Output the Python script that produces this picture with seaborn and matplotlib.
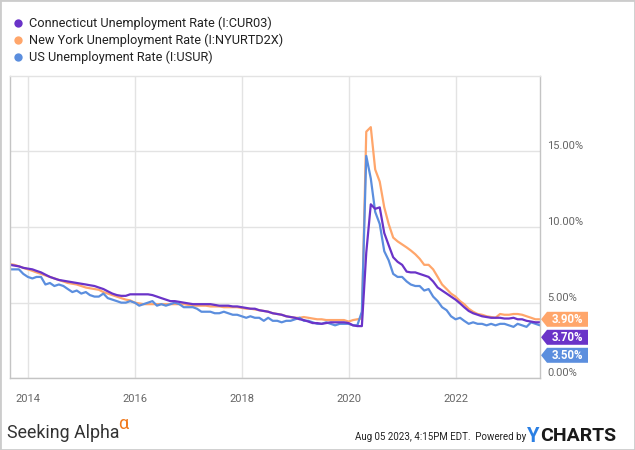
import matplotlib
matplotlib.use("Agg")
import matplotlib.pyplot as plt
import matplotlib.transforms as mtrans
from matplotlib.patches import Polygon, Rectangle
from matplotlib.lines import Line2D
import seaborn as sns
import pandas as pd

# ---------------- data (monthly, Aug 2013 - Jul 2023, month-end) ----------------
start_month = "2013-08-01"
n_months = 120

ct_rate = [7.5, 7.45, 7.4, 7.3, 7.25,
           7.2, 7.1, 7.0, 6.85, 6.7, 6.6, 6.5, 6.45, 6.4, 6.35, 6.3, 6.25,
           6.2, 6.15, 6.1, 6.0, 5.9, 5.75, 5.6, 5.5, 5.45, 5.45, 5.55, 5.55,
           5.55, 5.55, 5.55, 5.5, 5.4, 5.3, 5.2, 5.1, 5.1, 5.05, 5.0, 4.95,
           4.9, 4.9, 4.9, 4.9, 4.9, 4.85, 4.8, 4.8, 4.8, 4.75, 4.75, 4.7,
           4.65, 4.6, 4.6, 4.5, 4.45, 4.4, 4.3, 4.25, 4.2, 4.1, 4.05, 4.0,
           3.9, 3.85, 3.75, 3.65, 3.65, 3.6, 3.65, 3.7, 3.7, 3.7, 3.7, 3.65,
           3.5, 3.45, 3.45, 8.3, 11.5, 11.2, 11.3, 9.6, 8.8, 8.0, 7.7, 7.5,
           7.05, 7.0, 7.0, 6.9, 6.8, 6.7, 6.4, 6.0, 5.8, 5.6, 5.4, 5.2,
           4.95, 4.7, 4.45, 4.3, 4.2, 4.1, 4.05, 4.0, 4.0, 4.0, 3.95, 3.95,
           4.0, 3.9, 3.9, 3.8, 3.75, 3.7, 3.7]

ny_rate = [7.55, 7.5, 7.4, 7.3, 7.2,
           7.1, 7.0, 6.9, 6.8, 6.7, 6.6, 6.5, 6.4, 6.3, 6.25, 6.2, 6.1,
           6.0, 5.95, 5.9, 5.85, 5.7, 5.6, 5.5, 5.4, 5.3, 5.2, 5.15, 5.0,
           4.95, 4.9, 4.9, 4.9, 4.9, 4.9, 4.9, 4.9, 4.9, 4.9, 4.9, 4.85,
           4.8, 4.8, 4.8, 4.8, 4.75, 4.75, 4.75, 4.7, 4.7, 4.7, 4.7, 4.65,
           4.6, 4.6, 4.55, 4.5, 4.45, 4.4, 4.3, 4.25, 4.2, 4.1, 4.05, 4.0,
           4.0, 4.05, 4.0, 3.95, 3.9, 3.9, 3.85, 3.85, 3.85, 3.85, 3.85, 3.75,
           3.85, 3.9, 3.95, 16.3, 16.6, 13.8, 13.0, 11.3, 10.2, 9.3, 9.05, 8.85,
           8.65, 8.45, 8.2, 7.9, 7.5, 7.5, 7.2, 6.7, 6.2, 5.9, 5.6, 5.4,
           5.1, 4.9, 4.6, 4.4, 4.25, 4.2, 4.1, 4.05, 4.0, 4.25, 4.2, 4.2,
           4.25, 4.25, 4.2, 4.1, 4.0, 3.9, 3.9]

us_rate = [7.2, 7.2, 7.2, 6.9, 6.7,
           6.6, 6.7, 6.7, 6.2, 6.3, 6.1, 6.2, 6.1, 5.9, 5.7, 5.8, 5.6,
           5.7, 5.5, 5.4, 5.4, 5.6, 5.3, 5.2, 5.1, 5.0, 5.0, 5.1, 5.0,
           4.8, 4.9, 5.0, 5.1, 4.8, 4.9, 4.8, 4.9, 5.0, 4.9, 4.7, 4.7,
           4.7, 4.6, 4.4, 4.4, 4.4, 4.3, 4.3, 4.4, 4.3, 4.2, 4.2, 4.1,
           4.0, 4.1, 4.0, 4.0, 3.8, 4.0, 3.8, 3.8, 3.7, 3.8, 3.8, 3.9,
           4.0, 3.8, 3.8, 3.7, 3.6, 3.6, 3.7, 3.6, 3.5, 3.6, 3.6, 3.6,
           3.5, 3.5, 4.4, 14.7, 13.2, 11.0, 10.2, 8.4, 7.8, 6.9, 6.7, 6.7,
           6.4, 6.2, 6.1, 6.1, 5.8, 5.9, 5.4, 5.1, 4.7, 4.5, 4.1, 3.9,
           4.0, 3.8, 3.6, 3.7, 3.6, 3.6, 3.5, 3.6, 3.5, 3.6, 3.6, 3.5,
           3.4, 3.6, 3.5, 3.4, 3.7, 3.6, 3.5]

series_names = ["Connecticut Unemployment Rate (I:CUR03)",
                "New York Unemployment Rate (I:NYURTD2X)",
                "US Unemployment Rate (I:USUR)"]
series_colors = ["#6a33c8", "#ffa66b", "#5b8ede"]
year_ticks = [2014, 2016, 2018, 2020, 2022]
y_ticks = [0, 5, 10, 15]
y_tick_labels = ["0.00%", "5.00%", "10.00%", "15.00%"]

# ---------------- build frame ----------------
dates = pd.date_range(start=start_month, periods=n_months, freq="MS") + pd.offsets.MonthEnd(0)
frames = []
for name, vals in zip(series_names, [ct_rate, ny_rate, us_rate]):
    frames.append(pd.DataFrame({"date": dates, "value": vals, "series": name}))
df = pd.concat(frames, ignore_index=True)
palette = dict(zip(series_names, series_colors))

sns.set_theme(style="white")
plt.rcParams["font.family"] = ["Roboto", "DejaVu Sans"]

W, H = 635, 450
fig = plt.figure(figsize=(W / 100, H / 100), dpi=100)
ax_left, ax_right, ax_top, ax_bottom = 10, 540, 75.7, 378.3
ax = fig.add_axes([ax_left / W, 1 - ax_bottom / H, (ax_right - ax_left) / W, (ax_bottom - ax_top) / H])

draw_order = [series_names[1], series_names[2], series_names[0]]
sns.lineplot(data=df, x="date", y="value", hue="series", hue_order=draw_order,
             palette=palette, linewidth=1.6, ax=ax, legend=False)

ax.set_xlim(dates[0], dates[-1])
ax.set_ylim(0, 20)
ax.set_xlabel("")
ax.set_ylabel("")

ax.set_xticks([pd.Timestamp(f"{y}-01-01") for y in year_ticks])
ax.set_xticklabels([str(y) for y in year_ticks])
ax.yaxis.tick_right()
ax.set_yticks(y_ticks)
ax.set_yticklabels(y_tick_labels)
plt.setp(ax.get_yticklabels(), va="bottom")
ax.tick_params(axis="x", length=0, pad=11, labelsize=8, labelcolor="#666666")
ax.tick_params(axis="y", length=0, pad=5, labelsize=8, labelcolor="#666666")
ax.grid(True, color="#e3e3e3", linewidth=1)
for side in ["left", "bottom", "right"]:
    ax.spines[side].set_color("#c4c4c4")
    ax.spines[side].set_linewidth(1)
ax.spines["top"].set_color("#e3e3e3")
ax.spines["top"].set_linewidth(1)

# ---------------- end-value tags ----------------
ax_h_px = ax_bottom - ax_top
px_per_unit = ax_h_px / 20.0
ax_w_px = ax_right - ax_left
trans = mtrans.blended_transform_factory(ax.transAxes, ax.transData)
last_vals = [(v[-1], c) for v, c in zip([ct_rate, ny_rate, us_rate], series_colors)]
last_vals.sort(key=lambda t: -t[0])
spacing = 18 / px_per_unit
half_h = 7.5 / px_per_unit
tip = 1 + 1 / ax_w_px
bl = 1 + 7 / ax_w_px
br = 1 + 48 / ax_w_px
prev = None
for val, col in last_vals:
    yc = val if prev is None else min(val, prev - spacing)
    prev = yc
    poly = Polygon([(tip, yc), (bl, yc + half_h), (br, yc + half_h), (br, yc - half_h), (bl, yc - half_h)],
                   closed=True, transform=trans, clip_on=False, facecolor=col, edgecolor="none")
    ax.add_patch(poly)
    ax.text((bl + br) / 2, yc, f"{val:.2f}%", transform=trans, ha="center", va="center",
            color="white", fontsize=8.3, fontweight="bold", clip_on=False)

# ---------------- legend ----------------
for i, (name, col) in enumerate(zip(series_names, series_colors)):
    y = 1 - (23 + 17 * i) / H
    fig.add_artist(Line2D([18 / W], [y], marker="o", markersize=6, color=col,
                          markeredgewidth=0, transform=fig.transFigure))
    fig.text(29 / W, y, name, va="center", ha="left", fontsize=9.2, color="#222222")

# ---------------- footer ----------------
fig.text(7 / W, 1 - 433 / H, "Seeking Alpha", va="center", ha="left", fontsize=12.8, color="#333333")
fig.text(118 / W, 1 - 424 / H, "α", va="center", ha="left", fontsize=13, color="#f07a1e")
fig.text(526 / W, 1 - 437 / H, "Aug 05 2023, 4:15PM EDT.  Powered by", va="center", ha="right",
         fontsize=7.0, color="#222222", family=["Liberation Sans Narrow", "Roboto", "DejaVu Sans"])
fig.text(527 / W, 1 - 436 / H, "Y", va="center", ha="left", fontsize=14.5, fontweight="bold", color="#2a7fe3")
fig.text(540 / W, 1 - 436 / H, "CHARTS", va="center", ha="left", fontsize=14, fontweight="bold", color="#1a1a1a")

fig.add_artist(Rectangle((0, 0), 1, 1, transform=fig.transFigure, fill=False, edgecolor="#cccccc", linewidth=2))

fig.savefig("out.png", dpi=100)
